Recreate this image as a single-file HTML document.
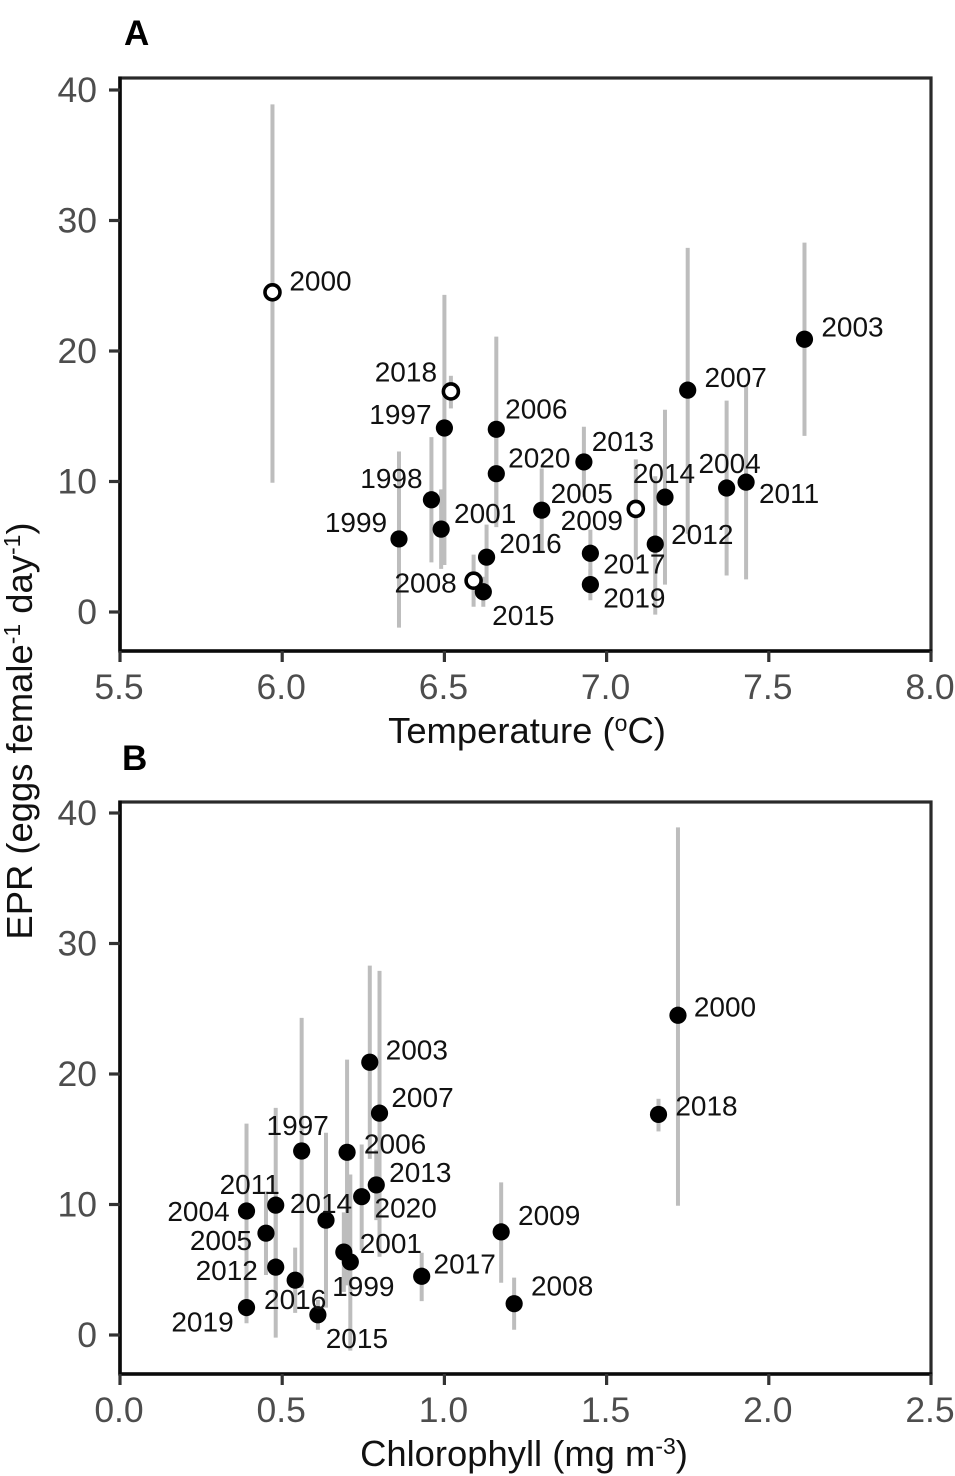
<!DOCTYPE html>
<html lang="en">
<head>
<meta charset="utf-8">
<title>EPR vs Temperature and Chlorophyll</title>
<style>
html,body{margin:0;padding:0;background:#fff;width:955px;height:1476px;overflow:hidden}
svg{display:block;font-family:"Liberation Sans",sans-serif}
.tick-label{font-size:35.5px;fill:#4d4d4d}
.axis-title{font-size:36.4px;fill:#111}
.year-label{font-size:28px;fill:#111;text-anchor:middle}
.panel-tag{font-size:35px;font-weight:bold;fill:#000}
</style>
</head>
<body>
<svg id="chart" xmlns="http://www.w3.org/2000/svg" width="955" height="1476" viewBox="0 0 955 1476">
  <text class="panel-tag" x="124" y="45">A</text>
  <text class="panel-tag" x="122" y="770">B</text>
  <text class="axis-title" x="527" y="743" text-anchor="middle">Temperature (<tspan font-size="23" dy="-12">o</tspan><tspan dy="12">C)</tspan></text>
  <text class="axis-title" x="524" y="1466" text-anchor="middle">Chlorophyll (mg m<tspan font-size="23" dy="-12">-3</tspan><tspan dy="12">)</tspan></text>
  <text class="axis-title" transform="translate(32,731) rotate(-90)" text-anchor="middle">EPR (eggs female<tspan font-size="23" dy="-12">-1</tspan><tspan dy="12"> day</tspan><tspan font-size="23" dy="-12">-1</tspan><tspan dy="12">)</tspan></text>
  <g id="panelA"></g>
  <g id="panelB"></g>
</svg>
<script>
const years       = [1997,1998,1999,2000,2001,2003,2004,2005,2006,2007,2008,2009,2011,2012,2013,2014,2015,2016,2017,2018,2019,2020];
const temperature = [6.50,6.46,6.36,5.97,6.49,7.61,7.37,6.80,6.66,7.25,6.59,7.09,7.43,7.15,6.93,7.18,6.62,6.63,6.95,6.52,6.95,6.66];
const chlorophyll = [0.56,null,0.71,1.72,0.69,0.77,0.39,0.45,0.70,0.80,1.215,1.175,0.48,0.48,0.79,0.635,0.61,0.54,0.93,1.66,0.39,0.745];
const epr         = [14.1,8.6,5.6,24.5,6.35,20.9,9.5,7.8,14.0,17.0,2.4,7.9,9.95,5.2,11.5,8.8,1.55,4.2,4.5,16.9,2.1,10.6];
const eprLow      = [3.6,3.8,-1.2,9.9,3.3,13.5,2.8,4.6,6.9,6.0,0.4,4.0,2.5,-0.2,8.8,2.1,0.4,1.7,2.6,15.6,0.9,6.5];
const eprHigh     = [24.3,13.4,12.3,38.9,9.4,28.3,16.2,11.0,21.1,27.9,4.4,11.7,17.4,10.4,14.2,15.5,2.7,6.7,6.3,18.1,3.3,14.6];
const openInTemperature = [2000,2008,2009,2018];
const yTicks = [0,10,20,30,40];
const xTicksA = [5.5,6.0,6.5,7.0,7.5,8.0];
const xTicksB = [0.0,0.5,1.0,1.5,2.0,2.5];

/* label placement (layout only), relative to each point */
const labelShiftA = {1997:[-44,-14],1998:[-40,-22],1999:[-43,-17],2000:[48,-12],2001:[44,-16],2003:[48,-13],2004:[3,-25],2005:[40,-17],2006:[40,-21],2007:[48,-13],2008:[-48,2],2009:[-44,11],2011:[43,11],2012:[47,-10],2013:[39,-21],2014:[-1,-24],2015:[40,23],2016:[44,-14],2017:[44,10],2018:[-45,-20],2019:[44,13],2020:[43,-16]};
const labelShiftB = {1997:[-4,-26],1999:[13,24],2000:[47,-9],2001:[47,-9],2003:[47,-13],2004:[-48,0],2005:[-45,7],2006:[48,-9],2007:[43,-16],2008:[48,-18],2009:[48,-17],2011:[-26,-21],2012:[-49,3],2013:[44,-13],2014:[-5,-17],2015:[39,23],2016:[0,19],2017:[43,-13],2018:[48,-9],2019:[-44,14],2020:[44,11]};

const NS = "http://www.w3.org/2000/svg";
function make(parent, tag, attrs, text) {
  const el = document.createElementNS(NS, tag);
  for (const k in attrs) el.setAttribute(k, attrs[k]);
  if (text !== undefined) el.textContent = text;
  parent.appendChild(el);
  return el;
}

function drawPanel(g, cfg) {
  const sx = v => cfg.xLeft + (v - cfg.xMin) / (cfg.xMax - cfg.xMin) * (cfg.xRight - cfg.xLeft);
  const sy = v => cfg.y0 - v * cfg.yScale;

  // uncertainty bars first
  years.forEach((yr, i) => {
    if (cfg.xs[i] === null) {
      if (cfg.barOnlyX === undefined) return;
    }
    const xv = cfg.xs[i] === null ? cfg.barOnlyX : cfg.xs[i];
    const bar = make(g, 'line', {x1: sx(xv), x2: sx(xv), y1: sy(eprLow[i]), y2: sy(eprHigh[i]), stroke: '#bdbdbd', 'stroke-width': 4});
    
    
  });

  // frame
  const frame = make(g, 'rect', {x: cfg.xLeft, y: cfg.top, width: cfg.xRight - cfg.xLeft, height: cfg.bottom - cfg.top, fill: 'none', stroke: '#2a2a2a', 'stroke-width': 3.2});
  
  
  const leftEdge = make(g, 'line', {x1: cfg.xLeft, x2: cfg.xLeft, y1: cfg.top - 1.5, y2: cfg.bottom + 1.5, stroke: '#0a0a0a', 'stroke-width': 3.6});
  
  
  const bottomEdge = make(g, 'line', {x1: cfg.xLeft, x2: cfg.xRight + 1.5, y1: cfg.bottom, y2: cfg.bottom, stroke: '#0a0a0a', 'stroke-width': 3.6});
  
  

  // y ticks
  yTicks.forEach(t => {
    const mark = make(g, 'line', {x1: cfg.xLeft - 11, x2: cfg.xLeft, y1: sy(t), y2: sy(t), stroke: '#333', 'stroke-width': 3.2});
    
    
    const lab = make(g, 'text', {class: 'tick-label', x: 97, y: sy(t) + 12, 'text-anchor': 'end'}, String(t));
    
    
  });

  // x ticks
  cfg.xTicks.forEach(t => {
    const mark = make(g, 'line', {x1: sx(t), x2: sx(t), y1: cfg.bottom, y2: cfg.bottom + 11, stroke: '#333', 'stroke-width': 3.2});
    
    
    const lab = make(g, 'text', {class: 'tick-label', x: sx(t) - 1, y: cfg.bottom + 48, 'text-anchor': 'middle'}, t.toFixed(1));
    
    
  });

  // points and labels
  years.forEach((yr, i) => {
    if (cfg.xs[i] === null) return;
    const px = sx(cfg.xs[i]), py = sy(epr[i]);
    const isOpen = cfg.open.indexOf(yr) >= 0;
    const dot = make(g, 'circle', isOpen
      ? {cx: px, cy: py, r: 7.5, fill: '#fff', stroke: '#000', 'stroke-width': 3.6}
      : {cx: px, cy: py, r: 8.6, fill: '#000'});
    
    
    const shift = cfg.shift[yr];
    if (shift) {
      const lab = make(g, 'text', {class: 'year-label', x: px + shift[0], y: py + shift[1] + 10}, String(yr));
      
      
    }
  });
}

drawPanel(document.getElementById('panelA'), {
  xs: temperature, xMin: 5.5, xMax: 8.0, xLeft: 120, xRight: 931,
  top: 78, bottom: 651, y0: 612, yScale: 13.05,
  xTicks: xTicksA, open: openInTemperature, shift: labelShiftA
});
drawPanel(document.getElementById('panelB'), {
  xs: chlorophyll, xMin: 0, xMax: 2.5, xLeft: 120, xRight: 931,
  top: 802, bottom: 1374, y0: 1335, yScale: 13.05,
  xTicks: xTicksB, open: [], shift: labelShiftB, barOnlyX: 0.70
});
</script>
</body>
</html>
